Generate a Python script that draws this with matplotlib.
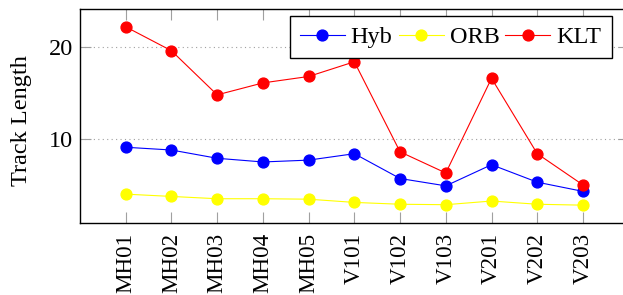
import numpy as np
import matplotlib
matplotlib.use('Agg')
import matplotlib.pyplot as plt

# sequences and mean track lengths
sequences = ['MH01', 'MH02', 'MH03', 'MH04', 'MH05',
             'V101', 'V102', 'V103', 'V201', 'V202', 'V203']
hyb = [9.1, 8.8, 7.9, 7.5, 7.7, 8.4, 5.7, 4.9, 7.2, 5.3, 4.3]
orb = [4.0, 3.75, 3.5, 3.5, 3.45, 3.1, 2.9, 2.85, 3.25, 2.9, 2.8]
klt = [22.2, 19.6, 14.8, 16.1, 16.8, 18.4, 8.6, 6.3, 16.6, 8.4, 5.0]
yticks = [10, 20]

plt.rcParams['font.family'] = ['Liberation Serif', 'DejaVu Serif']
FS = 17.5

W, H = 623, 295
fig = plt.figure(figsize=(W/100, H/100), dpi=100)
# axes box in pixels: left 80, top 9, bottom 223, right beyond the image
ax = fig.add_axes([80/W, 1-223/H, (628.7-80)/W, (223-9)/H])

x = np.arange(len(sequences))
ms = 7.8
ax.plot(x, hyb, '-o', color='blue', lw=0.8, ms=ms, label='Hyb')
ax.plot(x, orb, '-o', color='yellow', lw=0.8, ms=ms, label='ORB')
ax.plot(x, klt, '-o', color='red', lw=0.8, ms=ms, label='KLT')

# pgfplots style: limits enlarged by 10% of the range
ax.set_xlim(-1, len(sequences))
lo, hi = min(orb), max(klt)
ax.set_ylim(lo - 0.1*(hi-lo), hi + 0.1*(hi-lo))

ax.set_xticks(x)
ax.set_xticklabels(sequences, rotation=90)
ax.set_yticks(yticks)
ax.tick_params(axis='both', direction='in', length=8, width=0.8,
               color='#a0a0a0', labelsize=FS, top=True, right=True,
               labelcolor='black')
# x labels a bit smaller so they stay inside the picture
ax.tick_params(axis='x', pad=7, labelsize=16.6)
ax.tick_params(axis='y', pad=5)
ax.grid(axis='y', linestyle=(0, (1, 3)), color='#a0a0a0', lw=0.8)
ax.set_axisbelow(True)
for sp in ax.spines.values():
    sp.set_linewidth(1.0)
ax.set_ylabel('Track Length', fontsize=FS)
ax.yaxis.set_label_coords(-0.087, 0.48)

leg = ax.legend(ncol=3, loc='upper right', fontsize=FS, numpoints=1,
                bbox_to_anchor=(611.7/W, 1-16/H), bbox_transform=fig.transFigure,
                borderaxespad=0, fancybox=False, framealpha=1, edgecolor='black',
                handlelength=1.85, handletextpad=0.25, columnspacing=0.25,
                borderpad=0.42)
leg.get_frame().set_linewidth(1.0)

fig.savefig('out.png', dpi=100)
